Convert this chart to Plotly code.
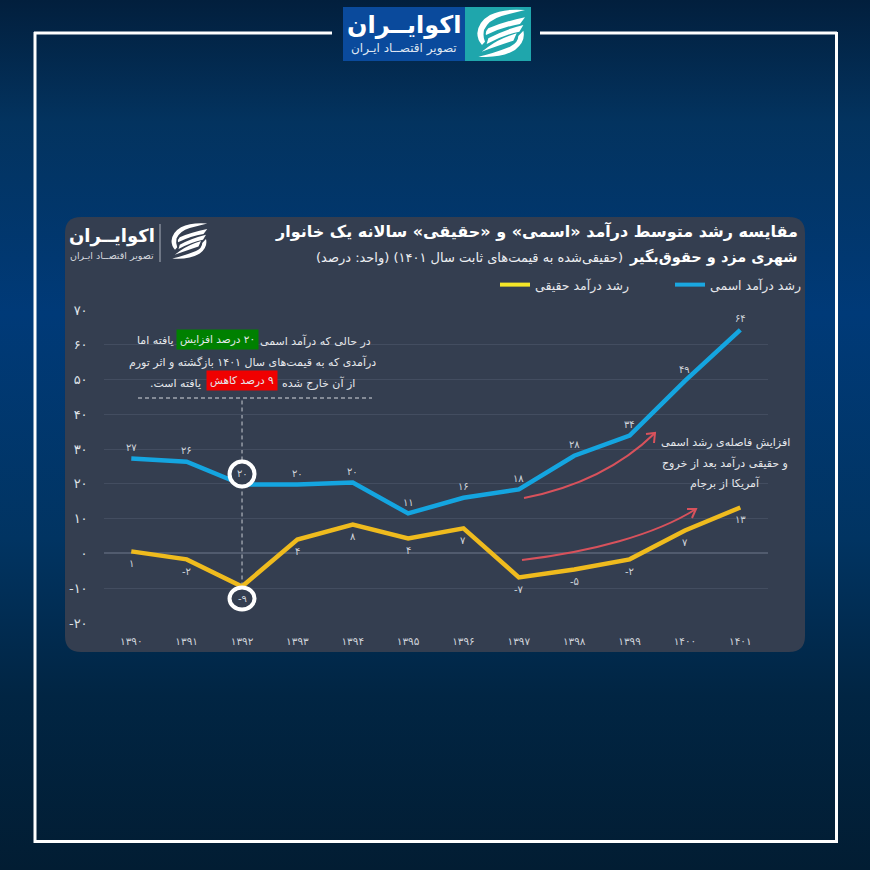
import base64
import plotly.graph_objects as go

# chart data
years = ["۱۳۹۰", "۱۳۹۱", "۱۳۹۲", "۱۳۹۳", "۱۳۹۴", "۱۳۹۵", "۱۳۹۶", "۱۳۹۷", "۱۳۹۸", "۱۳۹۹", "۱۴۰۰", "۱۴۰۱"]
nominal = [27.3, 26.4, 19.8, 19.8, 20.4, 11.5, 16.0, 18.4, 28.1, 33.9, 49.6, 64.3]
real = [0.6, -1.7, -9.5, 4.0, 8.3, 4.3, 7.2, -6.9, -4.6, -1.7, 6.6, 13.2]
nominal_labels = ["۲۷", "۲۶", "۲۰", "۲۰", "۲۰", "۱۱", "۱۶", "۱۸", "۲۸", "۳۴", "۴۹", "۶۴"]
real_labels = ["۱", "-۲", "-۹", "۴", "۸", "۴", "۷", "-۷", "-۵", "-۲", "۷", "۱۳"]
y_ticks = [-20, -10, 0, 10, 20, 30, 40, 50, 60, 70]
y_tick_labels = ["-۲۰", "-۱۰", "۰", "۱۰", "۲۰", "۳۰", "۴۰", "۵۰", "۶۰", "۷۰"]

SIZE = 870
FONT = "DejaVu Sans"
PANEL = "#343e50"
TEXT = "#e6e8ec"
RLM = "\u200f"


def fx(x):
    return x / SIZE


def fy(y):
    return 1 - y / SIZE


def px_path(cmds):
    # cmds: list of (letter, x, y, x, y...) in screen pixels -> path in paper coordinates
    out = []
    for c in cmds:
        if c == "Z":
            out.append("Z")
            continue
        pts = c[1:]
        vals = [f"{fx(pts[i]):.5f},{fy(pts[i + 1]):.5f}" for i in range(0, len(pts), 2)]
        out.append(c[0] + " " + " ".join(vals))
    return " ".join(out)


def icon_shapes(left, top, scale, color):
    # swoosh logo, outlines traced on a 3x crop
    parts = [
        [("M", 195, 30), ("Q", 130, 25, 90, 45), ("Q", 55, 65, 52, 100), ("Q", 52, 120, 66, 135),
         ("L", 75, 125), ("Q", 68, 110, 72, 90), ("Q", 85, 60, 125, 48), "Z"],
        [("M", 195, 52), ("Q", 130, 65, 85, 85), ("Q", 75, 95, 78, 105), ("Q", 130, 80, 180, 72), "Z"],
        [("M", 190, 75), ("Q", 130, 90, 85, 115), ("L", 80, 132), ("Q", 130, 105, 178, 95), "Z"],
        [("M", 170, 100), ("Q", 120, 115, 85, 140), ("L", 65, 155), ("Q", 120, 135, 160, 122), "Z"],
        [("M", 55, 170), ("Q", 125, 175, 165, 150), ("Q", 198, 125, 190, 92), ("L", 175, 108),
         ("Q", 175, 128, 150, 140), ("Q", 100, 160, 55, 170), "Z"],
    ]
    shapes = []
    for part in parts:
        cmds = []
        for c in part:
            if c == "Z":
                cmds.append(c)
            else:
                vals = [left + v * scale if i % 2 == 0 else top + v * scale for i, v in enumerate(c[1:])]
                cmds.append((c[0], *vals))
        shapes.append(dict(type="path", xref="paper", yref="paper", path=px_path(cmds),
                           fillcolor=color, line=dict(width=0)))
    return shapes


def rect(x0, y0, x1, y1, color):
    return dict(type="rect", xref="paper", yref="paper", x0=fx(x0), x1=fx(x1), y0=fy(y0), y1=fy(y1),
                fillcolor=color, line=dict(width=0), layer="below")


def seg(x0, y0, x1, y1, color="white", width=3, dash="solid"):
    return dict(type="line", xref="paper", yref="paper", x0=fx(x0), x1=fx(x1), y0=fy(y0), y1=fy(y1),
                line=dict(color=color, width=width, dash=dash))


def note(x, y, text, size=11, anchor="center", color=TEXT, bold=False, **kw):
    # the marks keep mixed digits and brackets in right-to-left order
    text = RLM + text + RLM
    if bold:
        text = "<b>" + text + "</b>"
    return dict(xref="paper", yref="paper", x=fx(x), y=fy(y), text=text, showarrow=False,
                xanchor=anchor, yanchor="middle", font=dict(family=FONT, size=size, color=color), **kw)


fig = go.Figure()

# lines
fig.add_trace(go.Scatter(x=years, y=nominal, mode="lines", showlegend=False, hoverinfo="skip",
                         line=dict(color="#14a5e0", width=4.5)))
fig.add_trace(go.Scatter(x=years, y=real, mode="lines", showlegend=False, hoverinfo="skip",
                         line=dict(color="#efbb1e", width=4.5)))
# legend entries only, the swatch yellow is lighter than the line
fig.add_trace(go.Scatter(x=[None], y=[None], mode="lines", name="رشد درآمد اسمی",
                         line=dict(color="#1aa7e0", width=4)))
fig.add_trace(go.Scatter(x=[None], y=[None], mode="lines", name="رشد درآمد حقیقی",
                         line=dict(color="#f4e628", width=4)))

# background gradient
svg = ('<svg xmlns="http://www.w3.org/2000/svg" width="870" height="870"><defs>'
       '<linearGradient id="g" x1="0" y1="0" x2="0" y2="1">'
       '<stop offset="0" stop-color="#021f3d"/><stop offset="0.14" stop-color="#03335f"/>'
       '<stop offset="0.36" stop-color="#003a78"/><stop offset="0.62" stop-color="#013462"/>'
       '<stop offset="0.80" stop-color="#012543"/><stop offset="1" stop-color="#021d33"/>'
       '</linearGradient></defs><rect width="870" height="870" fill="url(#g)"/></svg>')
fig.add_layout_image(source="data:image/svg+xml;base64," + base64.b64encode(svg.encode()).decode(),
                     xref="paper", yref="paper", x=0, y=1, sizex=1, sizey=1, sizing="stretch",
                     xanchor="left", yanchor="top", layer="below")

shapes = []

# rounded panel
r = 16
shapes.append(dict(type="path", xref="paper", yref="paper", layer="below", fillcolor=PANEL, line=dict(width=0),
                   path=px_path([("M", 65 + r, 217), ("L", 805 - r, 217), ("Q", 805, 217, 805, 217 + r),
                                 ("L", 805, 652 - r), ("Q", 805, 652, 805 - r, 652), ("L", 65 + r, 652),
                                 ("Q", 65, 652, 65, 652 - r), ("L", 65, 217 + r), ("Q", 65, 217, 65 + r, 217), "Z"])))

# white frame, open at the top around the logo
shapes += [seg(34, 33, 332, 33), seg(540, 33, 837, 33), seg(35, 32, 35, 843),
           seg(836.5, 32, 836.5, 843), seg(34, 841.5, 838, 841.5)]

# top logo
shapes.append(rect(343, 7, 465, 61, "#0a4a9c"))
shapes.append(rect(465, 7, 531, 61, "#1fa6ac"))
shapes += icon_shapes(460, 0, 1 / 3, "white")

# panel logo
shapes.append(seg(160, 224, 160, 262, "#aab0bb", 1))
shapes += icon_shapes(158.5, 216, 0.25, "white")

# callout rules
shapes.append(seg(138, 398, 372, 398, "#d5d8de", 1, "4px,3px"))
shapes.append(dict(type="line", xref="x", yref="y", x0=years[2], x1=years[2], y0=real[2], y1=44.5,
                   line=dict(color="#c5c9d1", width=1, dash="4px,3px"), layer="below"))

# rings around the 1392 values, kept at a pixel offset from the points
shapes.append(dict(type="circle", xref="x", yref="y", xsizemode="pixel", ysizemode="pixel",
                   xanchor=years[2], yanchor=nominal[2], x0=-12.5, x1=12.5, y0=-2, y1=23,
                   fillcolor=PANEL, line=dict(color="white", width=4)))
shapes.append(dict(type="circle", xref="x", yref="y", xsizemode="pixel", ysizemode="pixel",
                   xanchor=years[2], yanchor=real[2], x0=-12.5, x1=12.5, y0=-23, y1=-1,
                   fillcolor=PANEL, line=dict(color="white", width=4)))

# red curved arrows
ARROW = "#d8525c"
for curve, head in [
    ([("M", 524, 498), ("C", 565, 490, 615, 472, 655, 433)], [("M", 646, 434), ("L", 655, 433), ("L", 654, 443)]),
    ([("M", 522, 560), ("C", 590, 552, 655, 535, 696, 509)], [("M", 687, 509), ("L", 696, 509), ("L", 692, 518)]),
]:
    for cmds in (curve, head):
        shapes.append(dict(type="path", xref="paper", yref="paper", path=px_path(cmds),
                           line=dict(color=ARROW, width=2)))

annotations = [
    # title
    note(800, 231, "مقایسه رشد متوسط درآمد «اسمی» و «حقیقی» سالانه یک خانوار",
         size=16, anchor="right", color="white", bold=True),
    note(800, 257, "شهری مزد و حقوق‌بگیر", size=14.5, anchor="right", color="white", bold=True),
    note(625, 258, "(حقیقی‌شده به قیمت‌های ثابت سال ۱۴۰۱) (واحد: درصد)", size=13, anchor="right", color="#eceef2"),
    # logos
    note(404, 25, "اکوایــران", size=24, color="white", bold=True),
    note(404, 49, "تصویر اقتصــاد ایـران", size=12, color="#dfe6f2"),
    note(112, 236, "اکوایــران", size=18, color="white", bold=True),
    note(112, 255, "تصویر اقتصــاد ایـران", size=9.5, color="#d5d8de"),
    # callout
    note(258, 341, "در حالی که درآمد اسمی", anchor="left"),
    note(217, 339, "۲۰ درصد افزایش", size=10.5, bgcolor="#008000", borderpad=3),
    note(176, 341, "یافته اما", anchor="right"),
    note(252, 362, "درآمدی که به قیمت‌های سال ۱۴۰۱ بازگشته و اثر تورم"),
    note(280, 383, "از آن خارج شده", anchor="left"),
    note(241.5, 380, "۹ درصد کاهش", size=10.5, bgcolor="#f00000", borderpad=3),
    note(203, 383, "یافته است.", anchor="right"),
    # note next to the arrows
    note(725, 442, "افزایش فاصله‌ی رشد اسمی"),
    note(725, 463, "و حقیقی درآمد بعد از خروج"),
    note(725, 483, "آمریکا از برجام"),
]

# value labels
for i, year in enumerate(years):
    annotations.append(dict(x=year, y=nominal[i], text=nominal_labels[i], showarrow=False, yshift=11,
                            font=dict(family=FONT, size=10, color="#cfd3da")))
    annotations.append(dict(x=year, y=real[i], text=real_labels[i], showarrow=False, yshift=-12,
                            font=dict(family=FONT, size=10, color="#cfd3da")))

fig.update_layout(
    width=SIZE,
    height=SIZE,
    margin=dict(l=0, r=0, t=0, b=0, autoexpand=False),
    paper_bgcolor="rgba(0,0,0,0)",
    plot_bgcolor="rgba(0,0,0,0)",
    shapes=shapes,
    annotations=annotations,
    font=dict(family=FONT, color=TEXT),
    legend=dict(orientation="h", traceorder="reversed", x=fx(495), y=fy(270), xanchor="left", yanchor="top",
                bgcolor="rgba(0,0,0,0)", entrywidth=130, entrywidthmode="pixels",
                font=dict(family=FONT, size=12.5, color=TEXT)),
    xaxis=dict(type="category", domain=[fx(103.6), fx(768)], range=[-0.5, 11.5], showgrid=False, zeroline=False,
               showline=False, ticks="", ticklabelstandoff=10, tickfont=dict(family=FONT, size=10.5, color="#cfd3da")),
    yaxis=dict(domain=[fy(623), fy(310)], range=[-20, 70], tickvals=y_ticks, ticktext=y_tick_labels,
               gridcolor="#434d60", gridwidth=1, zeroline=True, zerolinecolor="#515b6e", zerolinewidth=1.5,
               showline=False, ticks="", ticklabelstandoff=15, tickfont=dict(family=FONT, size=13, color="#dfe2e8")),
)

fig.write_html("out.html", config={"displayModeBar": False}, post_script="document.body.style.margin='0';")
